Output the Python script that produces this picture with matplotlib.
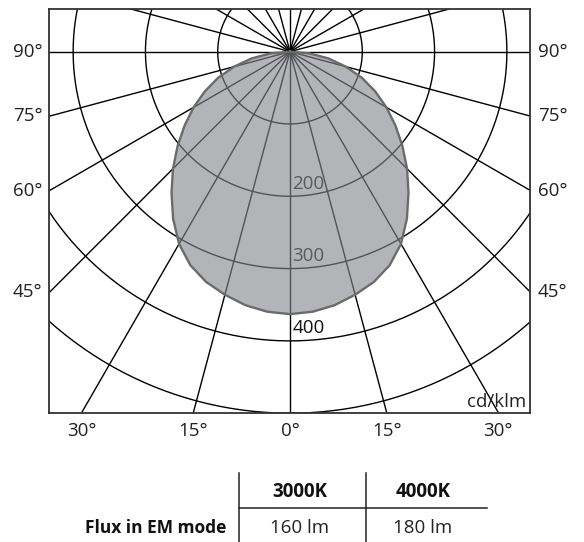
import numpy as np
import matplotlib
matplotlib.use("Agg")
import matplotlib.pyplot as plt
from matplotlib.transforms import blended_transform_factory
from matplotlib.lines import Line2D

plt.rcParams['font.family'] = ['Open Sans', 'DejaVu Sans']

# luminous intensity (cd/klm) vs angle from nadir, symmetric
angles = [0, 5, 10, 15, 20, 25, 30, 35, 40, 45, 50, 55, 60, 65, 70, 75, 80, 85, 90]
intensity = [363, 361, 356, 348, 339, 326, 307, 282, 255, 229, 203, 178, 154, 130, 106, 80, 54, 27, 0]

ring_values = [100, 200, 300, 400, 500, 600, 700]
ring_labels = [200, 300, 400]
side_angles = [90, 75, 60, 45]
bottom_angles = [-30, -15, 0, 15, 30]

table_cols = ['3000K', '4000K']
table_row = 'Flux in EM mode'
table_vals = ['160 lm', '180 lm']

W, H = 584, 542
FS = 13.5
fig = plt.figure(figsize=(W / 100, H / 100), dpi=100)

# frame in pixels: x 49.3..530, y 9.3..412.7 ; pole at (290, 51.7)
ax = fig.add_axes([49.3 / W, 1 - 412.7 / H, 480.7 / W, 403.4 / H])
ax.set_xlim(-333, 332)
ax.set_ylim(-499.3, 58.6)
ax.set_xticks([])
ax.set_yticks([])
for s in ax.spines.values():
    s.set_color('#333333')
    s.set_linewidth(1.3)

# polar grid
for a in range(0, 360, 15):
    t = np.radians(a)
    ax.plot([0, 1000 * np.sin(t)], [0, -1000 * np.cos(t)], color='black', lw=1.0, zorder=1)
t = np.linspace(0, 2 * np.pi, 400)
for r in ring_values:
    ax.plot(r * np.sin(t), r * np.cos(t), color='black', lw=1.0, zorder=1)

for r in ring_labels:
    ax.text(3, -r + 5, str(r), fontsize=FS, color='#111111', ha='left', va='bottom', zorder=2)

# light distribution curve
th = np.radians(np.array(angles))
I = np.array(intensity)
xs = np.concatenate([-I[::-1] * np.sin(th[::-1]), I[1:] * np.sin(th[1:])])
ys = np.concatenate([-I[::-1] * np.cos(th[::-1]), -I[1:] * np.cos(th[1:])])
ax.fill(xs, ys, color=(0.52, 0.525, 0.55), alpha=0.62, lw=0, zorder=3)
ax.plot(np.append(xs, xs[0]), np.append(ys, ys[0]), color='#6b6b6b', lw=1.7, zorder=4,
        solid_joinstyle='round')

ax.text(0.992, 0.014, 'cd/klm', transform=ax.transAxes, ha='right', va='baseline',
        fontsize=FS, color='#222222', zorder=5)

# angle labels
tr = blended_transform_factory(ax.transAxes, ax.transData)
for a in side_angles:
    y = 0 if a == 90 else -333 / np.tan(np.radians(a))
    ax.text(-0.014, y, f'{a}°', transform=tr, ha='right', va='center', fontsize=FS, color='#222222')
    ax.text(1.016, y, f'{a}°', transform=tr, ha='left', va='center', fontsize=FS, color='#222222')
trb = blended_transform_factory(ax.transData, ax.transAxes)
for a in bottom_angles:
    x = 499.3 * np.tan(np.radians(a))
    ax.text(x, -0.045, f'{abs(a)}°', transform=trb, ha='center', va='center', fontsize=FS, color='#222222')

# table below the diagram
def fx(px):
    return px / W

def fy(py):
    return 1 - py / H

for xv in [239, 365.7]:
    fig.add_artist(Line2D([fx(xv), fx(xv)], [fy(473), fy(542)], color='#222222', lw=1.1))
fig.add_artist(Line2D([fx(239), fx(487)], [fy(508.3), fy(508.3)], color='#222222', lw=1.1))

col_x = [300, 423]
for cx, c, v in zip(col_x, table_cols, table_vals):
    fig.text(fx(cx), fy(491.7), c, ha='center', va='center', fontsize=13.5, fontweight='bold', color='#111111')
    fig.text(fx(cx), fy(528), v, ha='center', va='center', fontsize=13.5, color='#222222')
fig.text(fx(226), fy(528), table_row, ha='right', va='center', fontsize=12.5, fontweight='bold', color='#111111')

fig.savefig('out.png', dpi=100)
